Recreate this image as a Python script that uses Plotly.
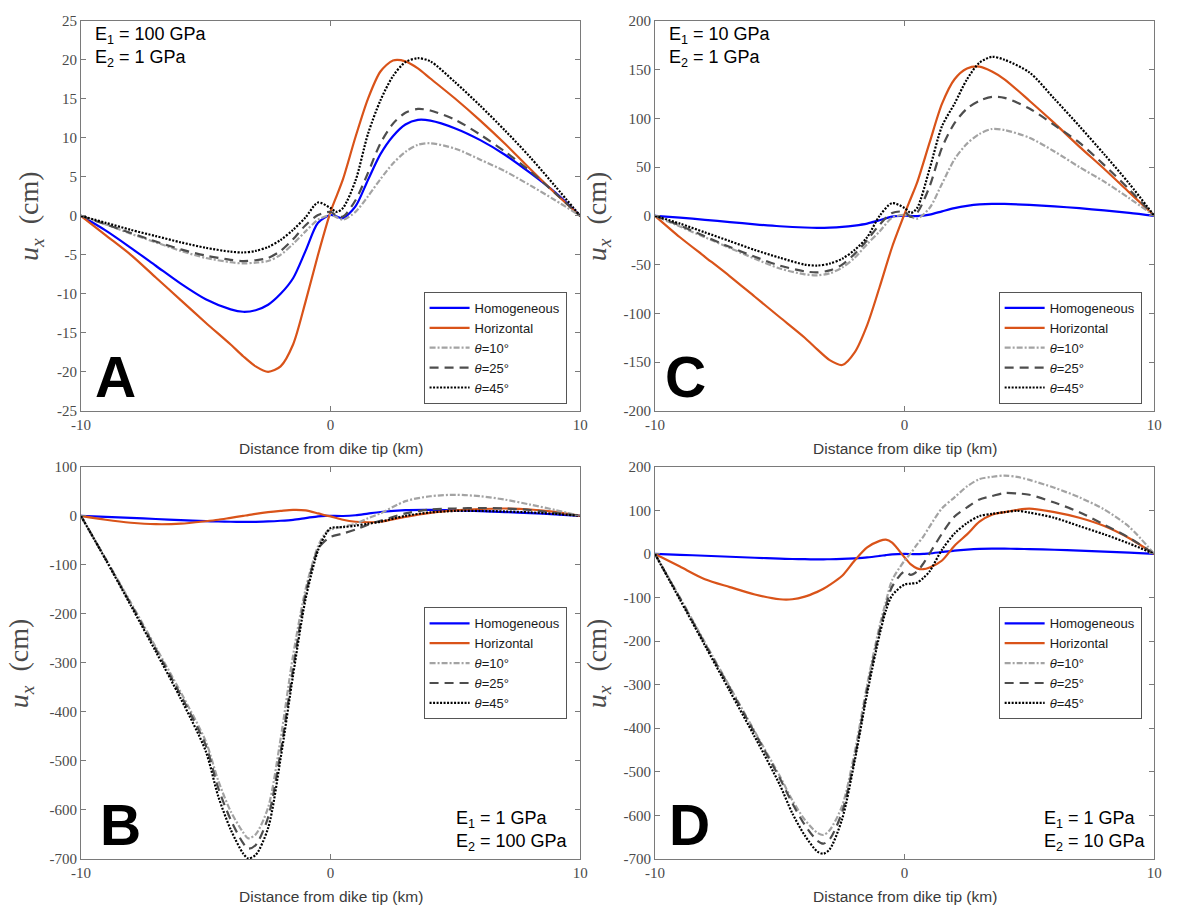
import plotly.graph_objects as go

W, H = 1177, 917

# ---------------- data ----------------
names = ["Homogeneous", "Horizontal", "<i>θ</i>=10°", "<i>θ</i>=25°", "<i>θ</i>=45°"]

# Panel A  (E1 = 100 GPa, E2 = 1 GPa)
xA = [-10, -9, -8, -7, -6, -5, -4, -3.5, -3, -2.5, -2, -1.5, -1, -0.5, 0, 0.25, 0.5,
      1, 1.5, 2, 2.5, 3, 3.5, 4, 5, 6, 7, 8, 9, 10]
A_homog = [0, -1.9, -4.1, -6.4, -8.7, -10.7, -12.0, -12.3, -12.1, -11.4, -10.0, -8.0, -4.5, -0.9, 0.1, -0.1, -0.3,
           1.2, 4.6, 7.9, 10.2, 11.7, 12.3, 12.2, 11.2, 9.7, 7.8, 5.5, 3.0, 0]
A_horiz = [0, -2.5, -5.0, -7.9, -10.8, -13.7, -16.5, -18.0, -19.3, -20.0, -19.3, -16.5, -11.0, -5.0, 0.5, 2.6, 4.7,
           10.1, 15.0, 18.5, 19.9, 19.8, 18.9, 17.6, 15.0, 12.2, 9.2, 6.0, 2.9, 0]
A_t10 = [0, -1.1, -2.3, -3.4, -4.5, -5.4, -5.95, -6.1, -6.0, -5.8, -5.0, -3.6, -2.0, -0.5, 0.1, -0.2, -0.5,
         0.5, 2.5, 4.7, 6.7, 8.2, 9.1, 9.3, 8.6, 7.2, 5.7, 3.9, 2.0, 0]
A_t25 = [0, -1.1, -2.2, -3.3, -4.3, -5.1, -5.65, -5.8, -5.7, -5.4, -4.5, -3.0, -1.2, 0.1, 0.5, 0.0, -0.1,
         2.0, 5.5, 9.3, 11.8, 13.2, 13.7, 13.5, 12.3, 10.4, 8.2, 5.7, 2.9, 0]
A_t45 = [0, -0.9, -1.8, -2.6, -3.4, -4.1, -4.6, -4.7, -4.5, -4.0, -3.1, -1.8, -0.2, 1.7, 1.0, 0.5, 1.0,
         4.5, 10.5, 14.8, 17.9, 19.7, 20.2, 19.8, 17.1, 14.1, 10.9, 7.5, 3.8, 0]

# Panel C  (E1 = 10 GPa, E2 = 1 GPa)
xC = xA
C_homog = [0, -1.9, -4.1, -6.4, -8.7, -10.7, -12.0, -12.3, -12.1, -11.4, -10.0, -8.0, -4.5, -0.9, 0.1, -0.1, -0.3,
           1.2, 4.6, 7.9, 10.2, 11.7, 12.3, 12.2, 11.2, 9.7, 7.8, 5.5, 3.0, 0]
C_horiz = [0, -22, -42, -62, -83, -104, -125, -137, -148, -153, -140, -112, -73, -32, 2, 18, 34,
           75, 115, 140, 151, 153, 148, 140, 118, 95, 71, 48, 24, 0]
C_t10 = [0, -11, -22, -33, -44, -54, -60, -61, -59, -53, -43, -29, -16, -2, 1, -1, -3,
         8, 33, 58, 74, 84, 89, 88, 80, 66, 50, 35, 18, 0]
C_t25 = [0, -10, -21, -32, -42, -51, -57, -58, -56, -50, -39, -25, -9, 3, 4, -1, 3,
         30, 70, 95, 110, 118, 122, 121, 110, 93, 75, 52, 27, 0]
C_t45 = [0, -8, -17, -26, -35, -43, -50, -51, -49, -44, -35, -22, 0, 13, 8, 3, 8,
         48, 92, 115, 140, 157, 163, 160, 147, 120, 92, 63, 33, 0]

# Panel B  (E1 = 1 GPa, E2 = 100 GPa)
xB = [-10, -9, -8, -7, -6, -5, -4.5, -4, -3.5, -3.3, -3, -2.5, -2, -1.5, -1, -0.5, -0.2, 0,
      0.5, 1, 1.5, 2, 3, 4, 5, 6, 7, 8, 9, 10]
B_homog = [0, -1.9, -4.1, -6.4, -8.7, -10.7, -11.5, -12.0, -12.3, -12.3, -12.1, -11.4, -10.0, -8.0, -4.5, -0.9, 0, 0.1,
           -0.3, 1.2, 4.6, 7.9, 11.7, 12.2, 11.2, 9.7, 7.8, 5.5, 3.0, 0]
B_horiz = [0, -8, -14, -17, -16, -11, -8, -4, 0, 1.5, 4, 7.5, 10, 12, 11, 5, 1, -1,
           -8, -12, -13, -12, -2, 6, 11, 14, 15, 13, 8, 0]
B_t10 = [0, -88, -177, -268, -360, -460, -540, -603, -646, -658, -650, -595, -455, -285, -150, -62, -35, -28,
         -22, -16, -5, 5, 30, 40, 43, 40, 33, 23, 12, 0]
B_t25 = [0, -89, -180, -272, -366, -468, -555, -620, -668, -679, -672, -615, -482, -312, -160, -68, -50, -43,
         -36, -28, -18, -10, 5, 13, 15, 16, 15, 12, 6, 0]
B_t45 = [0, -90, -183, -277, -373, -480, -572, -640, -689, -699, -692, -637, -495, -325, -170, -70, -38, -25,
         -23, -20, -16, -12, 0, 7, 10, 10, 9, 7, 4, 0]

# Panel D  (E1 = 1 GPa, E2 = 10 GPa)
xD = [-10, -9, -8, -7, -6, -5, -4.5, -4, -3.5, -3.25, -3, -2.5, -2, -1.5, -1, -0.75, -0.5, 0, 0.25, 0.5, 0.75,
      1, 1.5, 2, 2.5, 3, 3.5, 4, 4.5, 5, 6, 7, 8, 9, 10]
D_homog = [0, -1.9, -4.1, -6.4, -8.7, -10.7, -11.5, -12.0, -12.3, -12.2, -12.1, -11.4, -10.0, -8.0, -4.5, -2.5, -0.9,
           0.1, -0.1, -0.3, 0.3, 1.2, 4.6, 7.9, 10.2, 11.7, 12.3, 12.2, 11.8, 11.2, 9.7, 7.8, 5.5, 3.0, 0]
D_horiz = [0, -29, -58, -76, -93, -104, -104, -98, -87, -80, -71, -50, -15, 15, 30, 33, 26, -8, -24, -33, -35,
           -31, -15, 19, 45, 74, 90, 96, 101, 104, 96, 83, 64, 36, 0]
D_t10 = [0, -100, -203, -305, -408, -510, -565, -610, -640, -645, -634, -578, -455, -300, -165, -110, -60, -15, 2,
         22, 40, 63, 105, 130, 155, 172, 177, 180, 177, 170, 152, 130, 102, 62, 0]
D_t25 = [0, -102, -206, -308, -411, -515, -572, -622, -658, -665, -655, -592, -468, -310, -175, -120, -75, -40,
         -48, -40, -22, 1, 47, 86, 107, 125, 133, 140, 139, 136, 118, 96, 67, 37, 0]
D_t45 = [0, -105, -210, -315, -420, -530, -595, -646, -683, -688, -678, -608, -475, -320, -185, -130, -95, -70,
         -68, -66, -55, -40, 10, 47, 71, 87, 92, 96, 99, 95, 83, 64, 45, 24, 0]

yticksA = [-25, -20, -15, -10, -5, 0, 5, 10, 15, 20, 25]
yticksC = [-200, -150, -100, -50, 0, 50, 100, 150, 200]
yticksB = [-700, -600, -500, -400, -300, -200, -100, 0, 100]
yticksD = [-700, -600, -500, -400, -300, -200, -100, 0, 100, 200]
xticks = [-10, 0, 10]

# ---------------- styling ----------------
styles = [
    dict(color="#0000FF", width=2.2, dash="solid"),
    dict(color="#D95319", width=2.2, dash="solid"),
    dict(color="#A3A3A3", width=2.2, dash="6px,2px,2px,2px"),
    dict(color="#4D4D4D", width=2.2, dash="9px,6px"),
    dict(color="#000000", width=2.2, dash="2px,1.5px"),
]

def px2fx(p):
    return p / W

def py2fy(p):
    return 1 - p / H

panels = [
    # name, xs, series, yticks, domain px (l, r, t, b), legend id, legend px (l, t)
    ("A", xA, [A_homog, A_horiz, A_t10, A_t25, A_t45], yticksA, (72, 579, 13, 410), "legend", (420, 289)),
    ("C", xC, [C_homog, C_horiz, C_t10, C_t25, C_t45], yticksC, (655, 1162, 13, 410), "legend2", (1004, 289)),
    ("B", xB, [B_homog, B_horiz, B_t10, B_t25, B_t45], yticksB, (72, 579, 467, 866), "legend3", (420, 610)),
    ("D", xD, [D_homog, D_horiz, D_t10, D_t25, D_t45], yticksD, (655, 1162, 467, 866), "legend4", (1004, 610)),
]

fig = go.Figure()
layout = dict(
    width=W, height=H, margin=dict(l=0, r=0, t=0, b=0),
    plot_bgcolor="white", paper_bgcolor="white", showlegend=True,
)
annotations = []
axis_line = "#7A7A7A"
tickfont = dict(family="Liberation Serif, Times New Roman, serif", size=15, color="#4A4A4A")

for i, (name, xs, series, yt, (l, r, t, b), leg, (lx, ly)) in enumerate(panels):
    ax = "" if i == 0 else str(i + 1)
    for s, (ys, st) in enumerate(zip(series, styles)):
        fig.add_trace(go.Scatter(
            x=xs, y=ys, mode="lines", name=names[s],
            line=dict(color=st["color"], width=st["width"], dash=st["dash"], shape="spline", smoothing=0.8),
            xaxis="x" + ax, yaxis="y" + ax, legend=leg, showlegend=True, hoverinfo="skip",
        ))
    layout["xaxis" + ax] = dict(
        domain=[px2fx(l), px2fx(r)], range=[-10, 10], anchor="y" + ax,
        tickmode="array", tickvals=xticks, ticktext=[str(v) for v in xticks],
        ticks="inside", ticklen=5, tickcolor=axis_line, showline=True, linecolor=axis_line, linewidth=1,
        mirror="ticks", showgrid=False, zeroline=False, tickfont=tickfont,
    )
    layout["yaxis" + ax] = dict(
        domain=[py2fy(b), py2fy(t)], range=[yt[0], yt[-1]], anchor="x" + ax,
        tickmode="array", tickvals=yt, ticktext=[str(v) for v in yt],
        ticks="inside", ticklen=5, tickcolor=axis_line, showline=True, linecolor=axis_line, linewidth=1,
        mirror="ticks", showgrid=False, zeroline=False, tickfont=tickfont,
    )
    layout[leg] = dict(
        x=px2fx(lx), y=py2fy(ly), xanchor="left", yanchor="top",
        bgcolor="white", bordercolor="#555555", borderwidth=1,
        font=dict(family="Liberation Sans, Arial, sans-serif", size=13, color="#1A1A1A"),
        tracegroupgap=0, itemwidth=40,
    )
    # x-axis title
    annotations.append(dict(
        x=px2fx((l + r) / 2), y=py2fy(b + 38), xref="paper", yref="paper",
        text="Distance from dike tip (km)", showarrow=False, xanchor="center", yanchor="middle",
        font=dict(family="Liberation Sans, Arial, sans-serif", size=15.5, color="#3A3A3A"),
    ))

# y-axis titles
for (xc, yc) in [(21, 212), (597, 212), (11, 667), (597, 667)]:
    annotations.append(dict(
        x=px2fx(xc), y=py2fy(yc), xref="paper", yref="paper", textangle=-90,
        text="<i>u<sub>x</sub></i>  (cm)", showarrow=False, xanchor="center", yanchor="middle",
        font=dict(family="Liberation Serif, Times New Roman, serif", size=28, color="#4A4A4A"),
    ))

# panel letters
for (txt, xc, yc) in [("A", 107, 376), ("C", 686, 376), ("B", 112, 831), ("D", 690, 831)]:
    annotations.append(dict(
        x=px2fx(xc), y=py2fy(yc), xref="paper", yref="paper", text="<b>%s</b>" % txt,
        showarrow=False, xanchor="center", yanchor="middle",
        font=dict(family="Liberation Sans, Arial, sans-serif", size=57, color="black"),
    ))

# modulus labels
mods = [
    ("E<sub>1</sub> = 100 GPa<br>E<sub>2</sub> = 1 GPa", 84, 40),
    ("E<sub>1</sub> = 10 GPa<br>E<sub>2</sub> = 1 GPa", 667, 40),
    ("E<sub>1</sub> = 1 GPa<br>E<sub>2</sub> = 100 GPa", 451, 838),
    ("E<sub>1</sub> = 1 GPa<br>E<sub>2</sub> = 10 GPa", 1048, 838),
]
for txt, xl, yc in mods:
    annotations.append(dict(
        x=px2fx(xl), y=py2fy(yc), xref="paper", yref="paper", text=txt, align="left",
        showarrow=False, xanchor="left", yanchor="middle",
        font=dict(family="Liberation Sans, Arial, sans-serif", size=18, color="black"),
    ))

layout["annotations"] = annotations
fig.update_layout(**layout)
fig.write_html("out.html")
